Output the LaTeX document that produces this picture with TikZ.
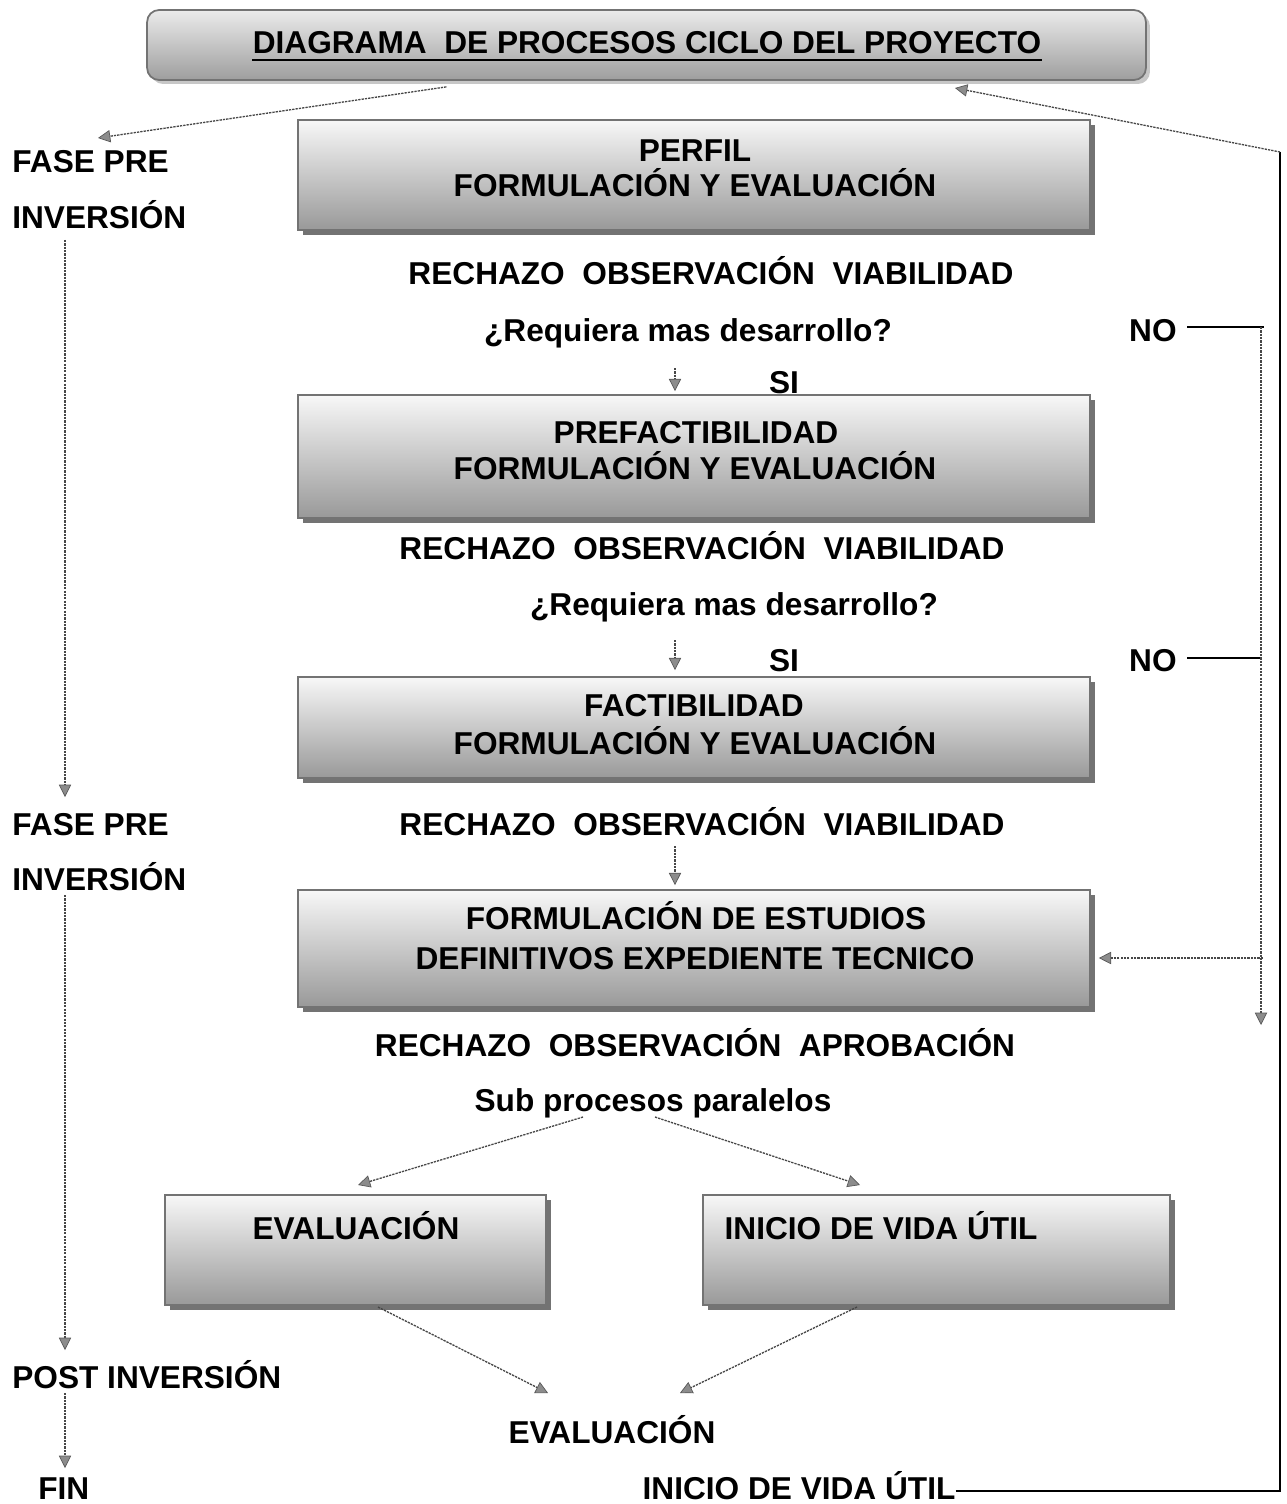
\documentclass[tikz,border=0pt]{standalone}
\usepackage{fontspec}
\setmainfont{Liberation Sans}
\usetikzlibrary{arrows.meta,shadows,calc}
\tikzset{
  txt/.style={font=\fontsize{18}{21}\selectfont\bfseries, inner sep=0pt, anchor=base},
  ltxt/.style={txt, anchor=base west},
  procbox/.style={draw=black!55, line width=1pt, top color=white!97!black, bottom color=black!40,
    drop shadow={shadow xshift=0.1cm, shadow yshift=-0.1cm, fill=black!55, opacity=1}, inner sep=0pt},
  titlebox/.style={draw=black!55, line width=1pt, rounded corners=0.24cm, top color=black!8, bottom color=black!38,
    drop shadow={shadow xshift=0.08cm, shadow yshift=-0.08cm, fill=black!22, opacity=1}, inner sep=0pt},
  arr/.style={draw=black!72, line width=0.75pt, dash pattern=on 1.3pt off 0.6pt,
    -{Triangle[length=7pt,width=7pt,fill=black!45,color=black!65,line width=0.4pt]}},
  sol/.style={draw=black, line width=0.9pt}
}
\begin{document}
\begin{tikzpicture}[x=0.02cm,y=-0.02cm]
\useasboundingbox (0,0) rectangle (1286,1504);

% title
\node[titlebox, minimum width=19.98cm, minimum height=1.4cm] (ttlbox) at (646.5,45) {};
\node[txt] (ttl) at (647,54) {DIAGRAMA \ DE PROCESOS CICLO DEL PROYECTO};
\draw[line width=1.6pt] ($(ttl.base west)+(0,6)$) -- ($(ttl.base east)+(0,6)$);

% boxes
\node[procbox, minimum width=15.84cm, minimum height=2.2cm] (perf) at (694,175) {};
\node[procbox, minimum width=15.84cm, minimum height=2.46cm] (pref) at (694,456.5) {};
\node[procbox, minimum width=15.84cm, minimum height=2.02cm] (fact) at (694,727.5) {};
\node[procbox, minimum width=15.84cm, minimum height=2.34cm] (form) at (694,948.5) {};
\node[procbox, minimum width=7.62cm, minimum height=2.2cm] (evb) at (355.5,1250) {};
\node[procbox, minimum width=9.34cm, minimum height=2.2cm] (inb) at (936.5,1250) {};

% box texts
\node[txt] (perf1) at (695,161) {PERFIL};
\node[txt] (perf2) at (695,196) {FORMULACIÓN Y EVALUACIÓN};
\node[txt] (pref1) at (696,443) {PREFACTIBILIDAD};
\node[txt] (pref2) at (695,479) {FORMULACIÓN Y EVALUACIÓN};
\node[txt] (fact1) at (694,716) {FACTIBILIDAD};
\node[txt] (fact2) at (695,754) {FORMULACIÓN Y EVALUACIÓN};
\node[txt] (form1) at (696,929) {FORMULACIÓN DE ESTUDIOS};
\node[txt] (form2) at (695,969) {DEFINITIVOS EXPEDIENTE TECNICO};
\node[txt] (evt) at (356,1239) {EVALUACIÓN};
\node[txt] (int) at (881,1239) {INICIO DE VIDA ÚTIL};

% free texts
\node[txt] (rech1) at (711,284) {RECHAZO \ OBSERVACIÓN \ VIABILIDAD};
\node[txt] (req1) at (688,341) {¿Requiera mas desarrollo?};
\node[txt, anchor=base east] (no1) at (1177,341) {NO};
\node[txt] (si1) at (784,393) {SI};
\node[txt] (rech2) at (702,559) {RECHAZO \ OBSERVACIÓN \ VIABILIDAD};
\node[txt] (req2) at (734,615) {¿Requiera mas desarrollo?};
\node[txt] (si2) at (784,671) {SI};
\node[txt, anchor=base east] (no2) at (1177,671) {NO};
\node[txt] (rech3) at (702,835) {RECHAZO \ OBSERVACIÓN \ VIABILIDAD};
\node[txt] (rech4) at (695,1056) {RECHAZO \ OBSERVACIÓN \ APROBACIÓN};
\node[txt] (sub) at (653,1111) {Sub procesos paralelos};
\node[txt] (ev2) at (612,1443) {EVALUACIÓN};
\node[txt] (in2) at (799,1499) {INICIO DE VIDA ÚTIL};

\node[ltxt] (fase1) at (12,173) {FASE PRE};
\node[ltxt] (inv1) at (12,228) {INVERSIÓN};
\node[ltxt] (fase2) at (12,835) {FASE PRE};
\node[ltxt] (inv2) at (12,890) {INVERSIÓN};
\node[ltxt] (post) at (12,1388) {POST INVERSIÓN};
\node[ltxt] (fin) at (38,1499) {FIN};

% coordinates
\coordinate (lx) at (65,0);
\coordinate (c1) at (98,138);
\coordinate (rv) at (1261,327);
\coordinate (rvend) at (1261,1025);
\coordinate (rn2) at (1261,658);
\coordinate (rb) at (1263,958);
\coordinate (rc) at (1280,152);
\coordinate (rbot) at (1280,1491);
\coordinate (ttltip) at (955,88);
\coordinate (s1) at (675,368);
\coordinate (s2) at (675,640);
\coordinate (s3) at (675,846);
\coordinate (sa) at (583,1117);
\coordinate (sb) at (655,1117);
\coordinate (ta) at (358,1185);
\coordinate (tb) at (860,1185);
\coordinate (ea) at (378,1307);
\coordinate (eb) at (857,1307);
\coordinate (ga) at (548,1393);
\coordinate (gb) at (680,1393);

% left chain
\draw[arr] ($(ttlbox.south west)!0.3!(ttlbox.south east)+(0,6)$) -- (c1);
\draw[arr] ([yshift=-0.24cm]inv1.base -| lx) -- ([yshift=0.76cm]fase2.base -| lx);
\draw[arr] ([yshift=-0.1cm]inv2.base -| lx) -- ([yshift=0.76cm]post.base -| lx);
\draw[arr] ([yshift=-0.1cm]post.base -| lx) -- ([yshift=0.62cm]fin.base -| lx);

% middle arrows
\draw[arr, shorten >=0.06cm] (s1) -- (s1 |- pref.north);
\draw[arr, shorten >=0.12cm] (s2) -- (s2 |- fact.north);
\draw[arr, shorten >=0.08cm] (s3) -- (s3 |- form.north);

% NO branches
\draw[sol] ([xshift=0.2cm]no1.east |- rv) -- ([xshift=0.06cm]rv);
\draw[sol] ([xshift=0.2cm]no2.east |- rn2) -- (rn2);
\draw[arr] (rv) -- (rvend);
\draw[arr, shorten >=0.16cm] (rb) -- (rb -| form.east);

% sub processes
\draw[arr] (sa) -- (ta);
\draw[arr] (sb) -- (tb);
\draw[arr] (ea) -- (ga);
\draw[arr] (eb) -- (gb);

% return loop
\draw[sol] (in2.east |- rbot) -- (rbot) -- (rc);
\draw[arr] (rc) -- (ttltip);
\end{tikzpicture}
\end{document}
